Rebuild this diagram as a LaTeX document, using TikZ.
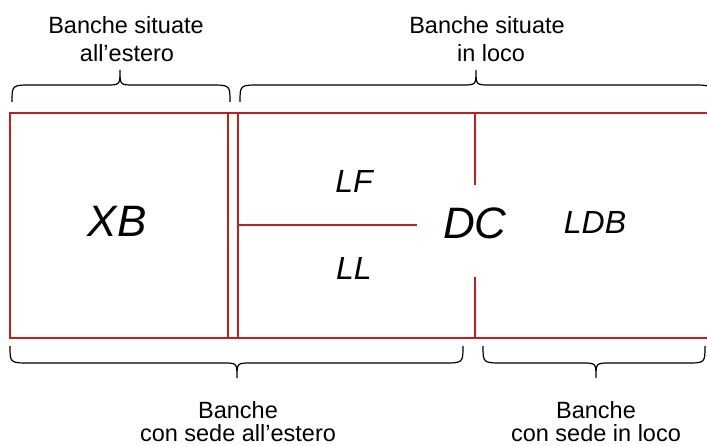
\documentclass[tikz,border=0pt]{standalone}
\usepackage{fontspec}
\setmainfont{Liberation Sans}
\definecolor{boxred}{RGB}{190,32,32}
\begin{document}
\begin{tikzpicture}[x=1pt,y=-1pt,
  frame/.style={draw=boxred, line width=1.5pt},
  bracepath/.style={draw=black, line width=1.2pt},
  lbl/.style={font=\fontsize{23.5}{27}\selectfont, inner sep=0pt, anchor=base},
  big/.style={font=\fontsize{44}{50}\selectfont\itshape, inner sep=0pt, anchor=base},
  mid/.style={font=\fontsize{32}{38}\selectfont\itshape, inner sep=0pt, anchor=base}]
\useasboundingbox (0,0) rectangle (707,446);

% frame corners and dividers
\coordinate (tl) at (10,113);
\coordinate (bl) at (10,338);
\coordinate (tr) at (707,113);
\coordinate (br) at (707,338);
\coordinate (v1t) at (228,113);
\coordinate (v1b) at (228,338);
\coordinate (v2t) at (238,113);
\coordinate (v2b) at (238,338);
\coordinate (hm) at (238,225);
\coordinate (hme) at (417,225);
\coordinate (dct) at (475,113);
\coordinate (dcu) at (475,185);
\coordinate (dcl) at (475,277);
\coordinate (dcb) at (475,338);

\draw[frame] (tr) -- (tl) -- (bl) -- (br);
\draw[frame] (v1t) -- (v1b);
\draw[frame] (v2t) -- (v2b);
\draw[frame] (hm) -- (hme);
\draw[frame] (dct) -- (dcu);
\draw[frame] (dcl) -- (dcb);

% braces top
\draw[bracepath] (12,102) .. controls (12,85) .. (32,85) -- (106,85)
  .. controls (120,85) .. (120,70) .. controls (120,85) .. (134,85)
  -- (210,85) .. controls (230,85) .. (230,102);
\begin{scope}
\clip (0,0) rectangle (707,446);
\draw[bracepath] (240,102) .. controls (240,85) .. (260,85) -- (462,85)
  .. controls (476,85) .. (476,70) .. controls (476,85) .. (490,85)
  -- (692,85) .. controls (712,85) .. (712,102);
\end{scope}
% braces bottom
\draw[bracepath] (10,346) .. controls (10,363) .. (30,363) -- (223,363)
  .. controls (237,363) .. (237,378) .. controls (237,363) .. (251,363)
  -- (443,363) .. controls (463,363) .. (463,346);
\draw[bracepath] (483,346) .. controls (483,363) .. (503,363) -- (582,363)
  .. controls (596,363) .. (596,378) .. controls (596,363) .. (610,363)
  -- (686,363) .. controls (705,363) .. (705,346);

% labels
\node[lbl] (t1a) at (126,34) {Banche situate};
\node[lbl] (t1b) at (127,62) {all’estero};
\node[lbl] (t2a) at (487,34) {Banche situate};
\node[lbl] (t2b) at (491,62) {in loco};
\node[lbl] (b1a) at (238,418) {Banche};
\node[lbl] (b1b) at (238,441) {con sede all’estero};
\node[lbl] (b2a) at (596,418) {Banche};
\node[lbl] (b2b) at (596,441) {con sede in loco};

\node[big] (xb) at (117,237) {XB};
\node[big] (dc) at (475,239) {DC};
\node[mid] (lf) at (354,193) {LF};
\node[mid] (ll) at (354,280) {LL};
\node[mid] (ldb) at (595,234) {LDB};
\end{tikzpicture}
\end{document}
